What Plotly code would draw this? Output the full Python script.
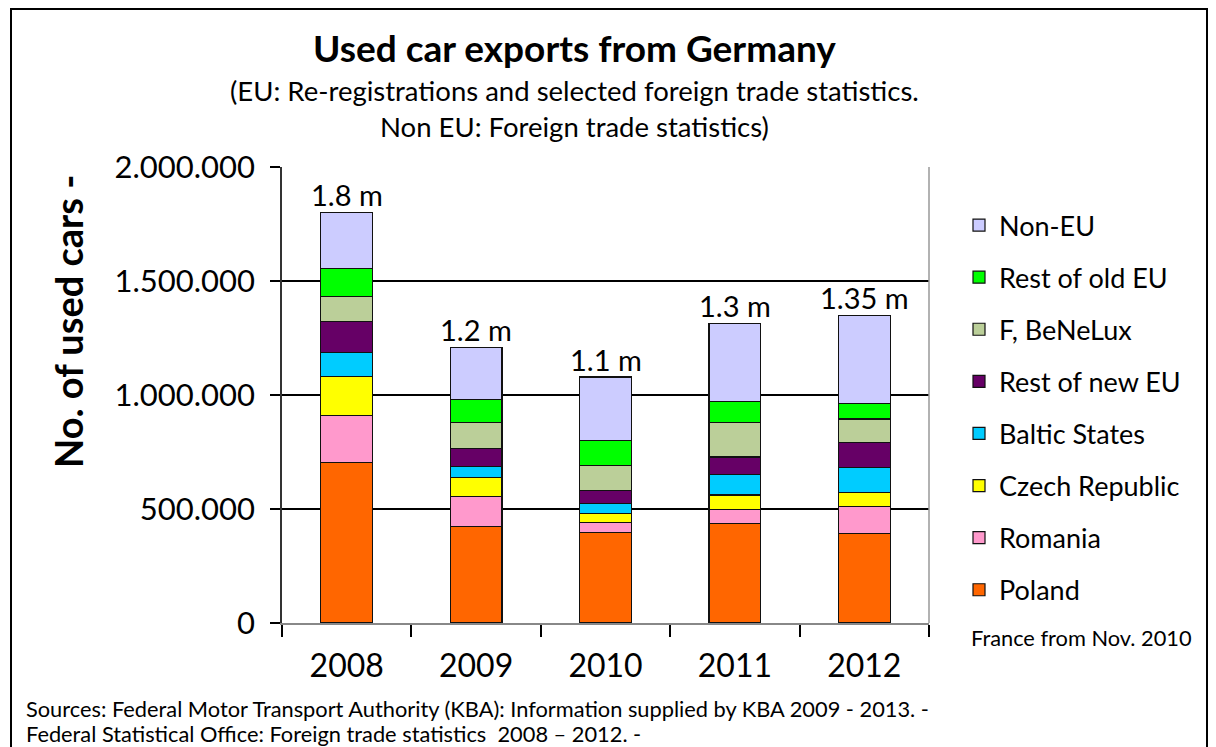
import plotly.graph_objects as go

years = ["2008", "2009", "2010", "2011", "2012"]
series_names = ["Poland", "Romania", "Czech Republic", "Baltic States",
                "Rest of new EU", "F, BeNeLux", "Rest of old EU", "Non-EU"]
poland = [703000, 424000, 396000, 436000, 392000]
romania = [207000, 132000, 44000, 61000, 120000]
czech = [171000, 82000, 39000, 64000, 61000]
baltic = [107000, 50000, 46000, 92000, 110000]
rest_new_eu = [136000, 78000, 56000, 75000, 110000]
f_benelux = [108000, 114000, 110000, 151000, 102000]
rest_old_eu = [124000, 102000, 110000, 93000, 66000]
non_eu = [246000, 227000, 278000, 343000, 389000]
total_labels = ["1.8 m", "1.2 m", "1.1 m", "1.3 m", "1.35 m"]
colors = ["#FF6600", "#FF99CC", "#FFFF00", "#00CCFF",
          "#660066", "#BBCF99", "#00FF00", "#CCCCFF"]

series = [poland, romania, czech, baltic, rest_new_eu, f_benelux, rest_old_eu, non_eu]

FONT = "Lato"
fig = go.Figure()
n = len(series)
for i, (name, vals, col) in enumerate(zip(series_names, series, colors)):
    fig.add_trace(go.Bar(
        x=years, y=vals, name=name, legendgroup=name, legendrank=100 + (n - i),
        marker=dict(color=col, line=dict(color="#111111", width=1.2)),
        width=0.4,
    ))

totals = [sum(v) for v in zip(*series)]
for i, (tot, lab) in enumerate(zip(totals, total_labels)):
    fig.add_annotation(x=i, y=tot, text=lab, showarrow=False, yanchor="bottom",
                       yshift=-2, font=dict(family=FONT, size=29, color="black"))

def px_x(x):
    return (x - 282) / 647

def px_y(y):
    return (623 - y) / 456

fig.update_layout(
    width=1208, height=739,
    barmode="stack",
    separators=",.",
    paper_bgcolor="white", plot_bgcolor="white",
    margin=dict(l=274, r=287, t=159, b=124),
    font=dict(family=FONT, color="black"),
    showlegend=True,
    legend=dict(x=px_x(959), xanchor="left", y=px_y(201), yanchor="top", yref="paper",
                traceorder="grouped", tracegroupgap=14,
                font=dict(family=FONT, size=27, color="black"),
                itemwidth=30, bgcolor="rgba(0,0,0,0)", borderwidth=0,
                title=None),
    xaxis=dict(type="category", tickson="boundaries", ticks="outside", ticklen=12,
               tickcolor="black", tickwidth=1.5, showline=True, linecolor="#888888",
               linewidth=1.5, showgrid=False, ticklabelstandoff=14,
               tickfont=dict(family=FONT, size=32, color="black")),
    yaxis=dict(range=[0, 2000000], dtick=500000, tickformat=",d",
               showgrid=True, gridcolor="black", gridwidth=1.5,
               ticks="outside", ticklen=10, tickcolor="black", tickwidth=1.5,
               showline=True, linecolor="#333333", linewidth=1.5,
               zeroline=False, ticklabelstandoff=9,
               tickfont=dict(family=FONT, size=31, color="black")),
)

# right border of plot area
fig.add_shape(type="line", xref="paper", yref="paper", x0=1, x1=1, y0=0, y1=1,
              line=dict(color="#999999", width=1.5))
# outer chart border
fig.add_shape(type="rect", xref="paper", yref="paper",
              x0=px_x(11), x1=px_x(1207),
              y0=-0.5, y1=px_y(9),
              line=dict(color="black", width=2), fillcolor="rgba(0,0,0,0)", layer="below")

fig.add_annotation(xref="paper", yref="paper", x=px_x(68), y=px_y(322),
                   xanchor="center", yanchor="middle", textangle=-90,
                   text="<b>No. of used cars -</b>", showarrow=False,
                   font=dict(family=FONT, size=38, color="black"))
fig.add_annotation(xref="paper", yref="paper", x=px_x(574), y=px_y(47),
                   xanchor="center", yanchor="middle",
                   text="<b>Used car exports from Germany</b>", showarrow=False,
                   font=dict(family=FONT, size=37, color="black"))
fig.add_annotation(xref="paper", yref="paper", x=px_x(574), y=px_y(90),
                   xanchor="center", yanchor="middle",
                   text="(EU: Re-registrations and selected foreign trade statistics.",
                   showarrow=False, font=dict(family=FONT, size=27.5, color="black"))
fig.add_annotation(xref="paper", yref="paper", x=px_x(574), y=px_y(127),
                   xanchor="center", yanchor="middle",
                   text="Non EU: Foreign trade statistics)",
                   showarrow=False, font=dict(family=FONT, size=27.5, color="black"))
fig.add_annotation(xref="paper", yref="paper", x=px_x(969), y=px_y(637),
                   xanchor="left", yanchor="middle", text="France from Nov. 2010",
                   showarrow=False, font=dict(family=FONT, size=21.8, color="black"))
fig.add_annotation(xref="paper", yref="paper", x=px_x(24), y=px_y(708),
                   xanchor="left", yanchor="middle",
                   text="Sources: Federal Motor Transport Authority (KBA): Information supplied by KBA 2009 - 2013. -",
                   showarrow=False, font=dict(family=FONT, size=21.8, color="black"))
fig.add_annotation(xref="paper", yref="paper", x=px_x(24), y=px_y(733),
                   xanchor="left", yanchor="middle",
                   text="Federal Statistical Office: Foreign trade statistics  2008 \u2013 2012. -",
                   showarrow=False, font=dict(family=FONT, size=21.8, color="black"))

fig.write_html("out.html")
